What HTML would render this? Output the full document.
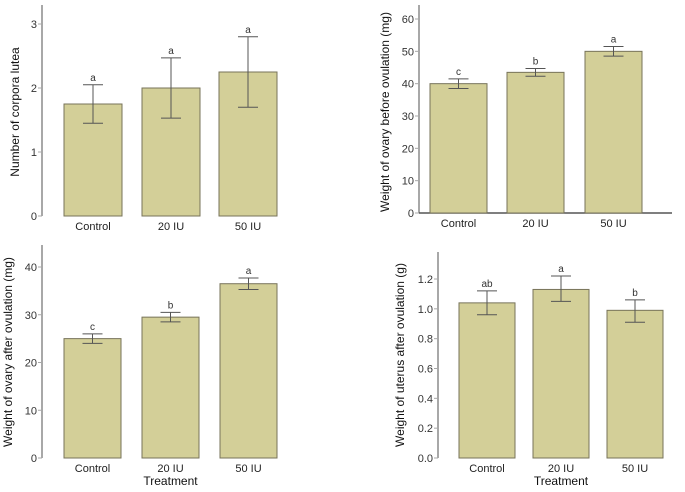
<!DOCTYPE html>
<html><head><meta charset="utf-8"><style>
body{margin:0;background:#fff;width:685px;height:487px;overflow:hidden}
svg{font-family:"Liberation Sans",sans-serif}
</style></head><body>
<svg id="c" width="685" height="487"></svg>
<script>
const categories=["Control","20 IU","50 IU"];
const corporaVals=[1.75,2.0,2.25];
const corporaLo=[1.45,1.53,1.7];
const corporaHi=[2.05,2.47,2.8];
const corporaLetters=["a","a","a"];
const corporaTicks=[0,1,2,3];
const ovBeforeVals=[40,43.5,50];
const ovBeforeLo=[38.5,42.3,48.5];
const ovBeforeHi=[41.5,44.7,51.5];
const ovBeforeLetters=["c","b","a"];
const ovBeforeTicks=[0,10,20,30,40,50,60];
const ovAfterVals=[25,29.5,36.5];
const ovAfterLo=[24,28.5,35.3];
const ovAfterHi=[26,30.5,37.7];
const ovAfterLetters=["c","b","a"];
const ovAfterTicks=[0,10,20,30,40];
const uterusVals=[1.04,1.13,0.99];
const uterusLo=[0.96,1.05,0.91];
const uterusHi=[1.12,1.22,1.06];
const uterusLetters=["ab","a","b"];
const uterusTicks=["0.0","0.2","0.4","0.6","0.8","1.0","1.2"];

const NS="http://www.w3.org/2000/svg";
const svg=document.getElementById('c');
function mk(tag,attrs,parent){const e=document.createElementNS(NS,tag);for(const k in attrs)e.setAttribute(k,attrs[k]);(parent||svg).appendChild(e);return e;}
function panel(o){
  const g=mk('g',{});
  
  
  const y=v=>o.y0-(v-o.vmin)/(o.vmax-o.vmin)*(o.y0-o.y1);
  let a=mk('line',{x1:o.ax,x2:o.ax,y1:o.top,y2:o.y0,stroke:'#a8a8a8','stroke-width':2},g);
  
  if(o.xline){let l=mk('line',{x1:o.ax,x2:o.xline,y1:o.y0,y2:o.y0,stroke:'#555','stroke-width':1.5},g);
    }
  o.ticks.forEach(t=>{const v=parseFloat(t);const yy=y(v);
    mk('line',{x1:o.ax-4,x2:o.ax,y1:yy,y2:yy,stroke:'#a8a8a8'},g);
    const tx=mk('text',{x:o.ax-5,y:yy+4,'text-anchor':'end','font-size':11,fill:'#333'},g);tx.textContent=t;
    });
  categories.forEach((c,i)=>{const x0=o.bx[i],w=o.bw;
    const r=mk('rect',{x:x0,y:y(o.vals[i]),width:w,height:o.y0-y(o.vals[i]),fill:'#d3cf98',stroke:'#77735a','stroke-width':1},g);
    
    const cx=x0+w/2;
    mk('line',{x1:cx,x2:cx,y1:y(o.hi[i]),y2:y(o.lo[i]),stroke:'#555'},g);
    mk('line',{x1:cx-10,x2:cx+10,y1:y(o.hi[i]),y2:y(o.hi[i]),stroke:'#555'},g);
    mk('line',{x1:cx-10,x2:cx+10,y1:y(o.lo[i]),y2:y(o.lo[i]),stroke:'#555'},g);
    const lt=mk('text',{x:cx,y:y(o.hi[i])-4,'text-anchor':'middle','font-size':10,fill:'#333'},g);lt.textContent=o.letters[i];
    
    const xl=mk('text',{x:cx,y:o.y0+14,'text-anchor':'middle','font-size':11,fill:'#222'},g);xl.textContent=c;
    });
  const tt=mk('text',{x:o.tx,y:o.ty,'text-anchor':'middle','font-size':12,fill:'#111',transform:`rotate(-90 ${o.tx} ${o.ty})`},g);tt.textContent=o.title;
  
  if(o.xtitle){const xt=mk('text',{x:(o.bx[0]+o.bx[2]+o.bw)/2,y:o.y0+27,'text-anchor':'middle','font-size':12,fill:'#111'},g);xt.textContent='Treatment';
    }
}
panel({name:'corpora-lutea-panel',ax:42,top:5,y0:216,y1:24,vmin:0,vmax:3,ticks:corporaTicks.map(String),vals:corporaVals,lo:corporaLo,hi:corporaHi,letters:corporaLetters,bx:[64,142,219],bw:58,tx:19,ty:112,title:'Number of corpora lutea'});
panel({name:'ovary-before-panel',ax:419,top:5,y0:213,y1:19,vmin:0,vmax:60,ticks:ovBeforeTicks.map(String),vals:ovBeforeVals,lo:ovBeforeLo,hi:ovBeforeHi,letters:ovBeforeLetters,bx:[430,507,585],bw:57,tx:389,ty:112,title:'Weight of ovary before ovulation (mg)',xline:672});
panel({name:'ovary-after-panel',ax:42,top:245,y0:458,y1:267,vmin:0,vmax:40,ticks:ovAfterTicks.map(String),vals:ovAfterVals,lo:ovAfterLo,hi:ovAfterHi,letters:ovAfterLetters,bx:[64,142,220],bw:57,tx:12,ty:352,title:'Weight of ovary after ovulation (mg)',xtitle:true});
panel({name:'uterus-panel',ax:438,top:252,y0:458,y1:279,vmin:0,vmax:1.2,ticks:uterusTicks,vals:uterusVals,lo:uterusLo,hi:uterusHi,letters:uterusLetters,bx:[459,533,607],bw:56,tx:404,ty:355,title:'Weight of uterus after ovulation (g)',xtitle:true});
</script>
</body></html>
